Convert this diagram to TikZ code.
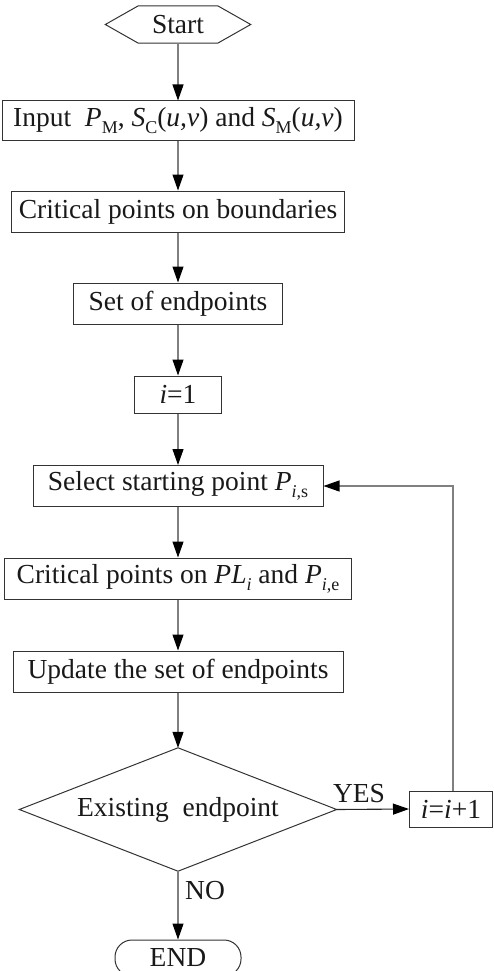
\documentclass[tikz,border=0pt]{standalone}
\usepackage{fontspec}
\setmainfont{Liberation Serif}
\usetikzlibrary{arrows.meta}
\newcommand{\sbs}[1]{\raisebox{-0.25em}{\fontsize{18}{18}\selectfont #1}}
\begin{document}
\begin{tikzpicture}[x=1pt,y=-1pt,
  font=\fontsize{27.5}{30}\selectfont,
  box/.style={draw=black!80, line width=1pt, minimum height=41pt, inner sep=0pt, text=black!90},
  plain/.style={inner sep=0pt, text=black!90},
  conn/.style={draw=black!50, line width=1.1pt, -{Triangle[length=16pt,width=11pt,color=black]}},
  darkconn/.style={conn, draw=black!85},
  edge/.style={draw=black!80, line width=1pt}]
\clip (0,0) rectangle (493,971);
% nodes
\node[plain, minimum width=145pt, minimum height=37pt] (start) at (178,24.5) {Start};
\node[box, minimum width=352pt, minimum height=39pt] (input) at (178,120.5)
  {Input~~\textit{P}\sbs{M}, \textit{S}\sbs{C}(\textit{u,v}) and \textit{S}\sbs{M}(\textit{u,v})};
\node[box, minimum width=333pt] (crit1) at (178,211.5) {Critical points on boundaries};
\node[box, minimum width=209pt] (setend) at (178,303.5) {Set of endpoints};
\node[box, minimum width=87pt, minimum height=37pt] (i1) at (178,394.5) {\textit{i}=1};
\node[box, minimum width=290pt] (select) at (178,486) {Select starting point \textit{P}\sbs{\textit{i},s}};
\node[box, minimum width=347pt] (crit2) at (178,578.5) {Critical points on \textit{PL}\sbs{\textit{i}} and \textit{P}\sbs{\textit{i},e}};
\node[box, minimum width=330pt] (update) at (178,671.5) {Update the set of endpoints};
\node[plain, minimum width=317pt, minimum height=123pt] (dec) at (178,809.5) {Existing~~endpoint};
\node[box, minimum width=83pt, minimum height=36pt] (inc) at (451,809) {\textit{i}=\textit{i}+1};
\node[box, rounded corners=17pt, minimum width=126pt, minimum height=36pt] (fin) at (178,958) {END};
\node[plain] (yes) at (359,794) {YES};
\node[plain, anchor=west] (no) at (185,891) {NO};
% outlines
\draw[edge] (start.west) -- ([xshift=33pt]start.north west) -- ([xshift=-33pt]start.north east)
  -- (start.east) -- ([xshift=-33pt]start.south east) -- ([xshift=33pt]start.south west) -- cycle;
\draw[edge] (dec.north) -- (dec.east) -- (dec.south) -- (dec.west) -- cycle;
% connectors
\draw[conn] (start) -- (input);
\draw[conn] (input) -- (crit1);
\draw[conn] (crit1) -- (setend);
\draw[conn] (setend) -- (i1);
\draw[conn] (i1) -- (select);
\draw[conn] (select) -- (crit2);
\draw[conn] (crit2) -- (update);
\draw[conn] (update) -- (dec.north);
\draw[darkconn] (dec.east) -- (inc.west);
\draw[conn] ([xshift=2pt]inc.north) -- ([xshift=2pt]inc.north |- select.east) -- (select.east);
\draw[conn] (dec.south) -- (fin);
\end{tikzpicture}
\end{document}
